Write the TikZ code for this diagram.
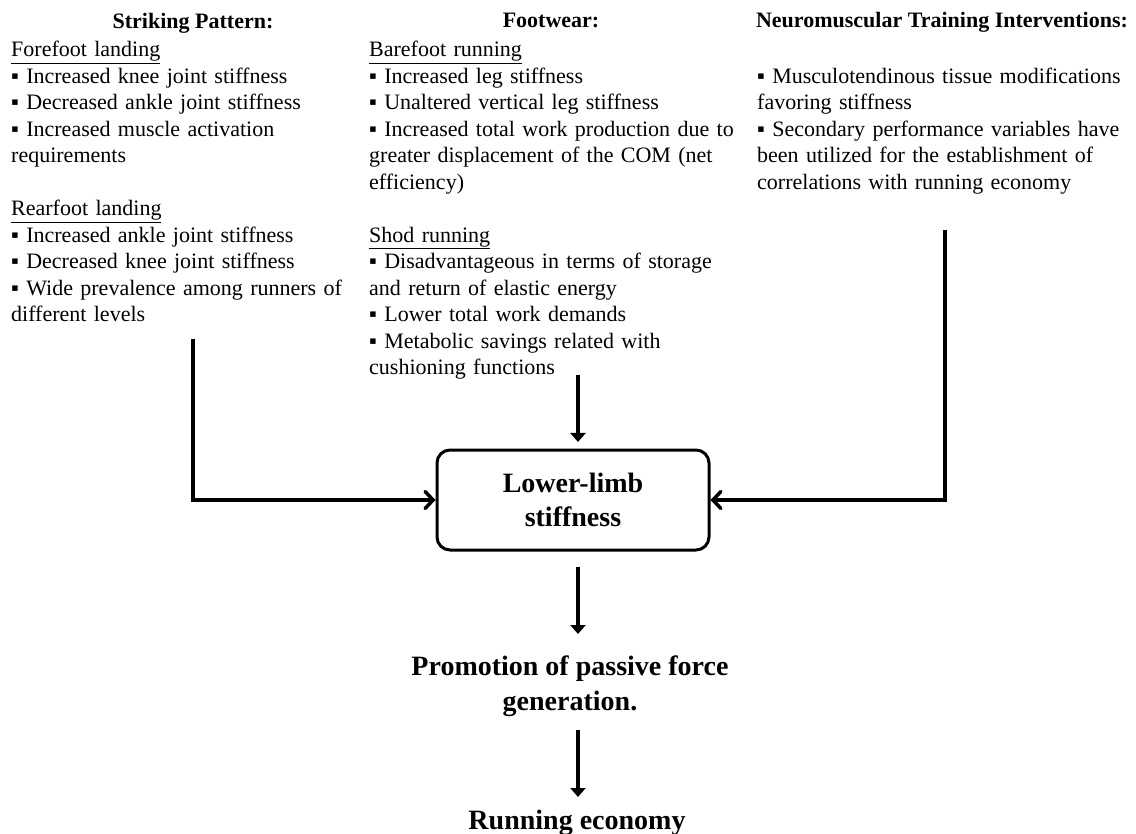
\documentclass[tikz,border=0pt]{standalone}
\usepackage{fontspec}
\setmainfont{Liberation Serif}
\usetikzlibrary{arrows.meta}
\begin{document}
\begin{tikzpicture}[x=1pt,y=-1pt,
  heading/.style={font=\fontsize{22}{26.5}\selectfont\bfseries, inner sep=0pt, anchor=base},
  column/.style={font=\fontsize{22}{26.5}\selectfont, inner sep=0pt, anchor=base west, align=left, text width=#1},
  bigtext/.style={font=\fontsize{28}{35}\selectfont\bfseries, inner sep=0pt, align=center},
  centerbox/.style={draw, line width=3pt, rounded corners=13pt, minimum width=272pt, minimum height=100pt, inner sep=0pt, align=center, font=\fontsize{28}{34}\selectfont\bfseries},
  varrow/.style={line width=4pt, -{Triangle[width=15pt,length=9pt]}},
  harrow/.style={line width=3.5pt, line join=miter, -{Straight Barb[length=8pt,width=17pt,line cap=round]}}
]
\useasboundingbox (0,0) rectangle (1136,834);

\node[heading] (hsp) at (193,29) {Striking Pattern:};
\node[heading] (hfw) at (551,28) {Footwear:};
\node[heading] (hnm) at (942,28) {Neuromuscular Training Interventions:};

\node[column=355pt] (colL) at (11,57) {\underline{Forefoot landing}\\
▪ Increased knee joint stiffness\\
▪ Decreased ankle joint stiffness\\
▪ Increased muscle activation\\
requirements\\[26.5pt]
\underline{Rearfoot landing}\\
▪ Increased ankle joint stiffness\\
▪ Decreased knee joint stiffness\\
▪ Wide prevalence among runners of\\
different levels};

\node[column=380pt] (colM) at (369,57) {\underline{Barefoot running}\\
▪ Increased leg stiffness\\
▪ Unaltered vertical leg stiffness\\
▪ Increased total work production due to\\
greater displacement of the COM (net\\
efficiency)\\[26.5pt]
\underline{Shod running}\\
▪ Disadvantageous in terms of storage\\
and return of elastic energy\\
▪ Lower total work demands\\
▪ Metabolic savings related with\\
cushioning functions};

\node[column=379pt] (colR) at (757,83.5) {▪ Musculotendinous tissue modifications\\
favoring stiffness\\
▪ Secondary performance variables have\\
been utilized for the establishment of\\
correlations with running economy};

\node[centerbox] (box) at (573,500) {Lower-limb\\stiffness};

\node[bigtext, anchor=base] (prom) at (570,710) {Promotion of passive force\\generation.};
\node[bigtext, anchor=base] (re) at (577,829) {Running economy};

\coordinate (mTop) at (578,375);
\coordinate (mTip) at (578,442);
\coordinate (bOut) at (578,567);
\coordinate (bTip) at (578,634);
\coordinate (pOut) at (578,730);
\coordinate (pTip) at (578,797);
\coordinate (lTop) at (193,339);
\coordinate (rTop) at (945,230);

\draw[varrow] (mTop) -- (mTip);
\draw[varrow] (bOut) -- (bTip);
\draw[varrow] (pOut) -- (pTip);
\draw[harrow] (lTop) |- (box.west);
\draw[harrow] (rTop) |- (box.east);
\end{tikzpicture}
\end{document}
